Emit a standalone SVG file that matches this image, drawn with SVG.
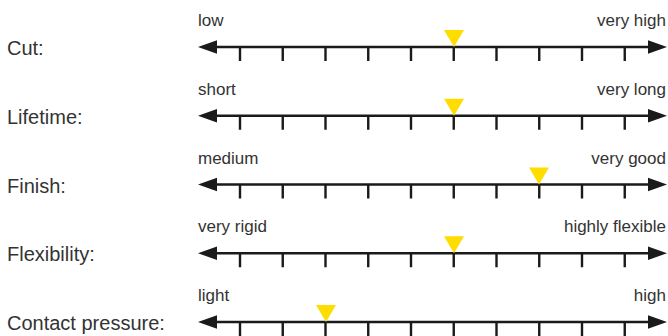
<svg xmlns="http://www.w3.org/2000/svg" xmlns:xlink="http://www.w3.org/1999/xlink" width="668" height="336" viewBox="0 0 668 336">
<style>
.lbl{font-family:"Liberation Sans","DejaVu Sans",sans-serif;font-size:20px;fill:#333333}
.end{font-family:"Liberation Sans","DejaVu Sans",sans-serif;font-size:17px;fill:#333333}
.r{text-anchor:end}
.axis{stroke:#1a1a1a;stroke-width:2.6;fill:none}
.tick{stroke:#1a1a1a;stroke-width:2.4}
.head{fill:#1a1a1a}
.mark{fill:#FFDD00}
</style>
<defs>
<g id="scale">
<line class="axis" x1="212" y1="0" x2="652" y2="0"/>
<polygon class="head" points="198,0 217,-6.7 217,6.7"/>
<polygon class="head" points="667,0 648,-6.7 648,6.7"/>
<path class="tick" d="M240,0V14M282.75,0V14M325.5,0V14M368.25,0V14M411,0V14M453.75,0V14M496.5,0V14M539.25,0V14M582,0V14M624.75,0V14"/>
</g>
<polygon id="tri" class="mark" points="-10,-17 10,-17 0,0"/>
</defs>
<g id="row-cut" transform="translate(0,47)">
<text class="lbl" x="7" y="8">Cut:</text>
<text class="end" x="198" y="-21">low</text>
<text class="end r" x="666" y="-21">very high</text>
<use xlink:href="#scale"/>
<use xlink:href="#tri" x="454"/>
</g>
<g id="row-lifetime" transform="translate(0,115.75)">
<text class="lbl" x="7" y="8">Lifetime:</text>
<text class="end" x="198" y="-21">short</text>
<text class="end r" x="666" y="-21">very long</text>
<use xlink:href="#scale"/>
<use xlink:href="#tri" x="454"/>
</g>
<g id="row-finish" transform="translate(0,184.5)">
<text class="lbl" x="7" y="8">Finish:</text>
<text class="end" x="198" y="-21">medium</text>
<text class="end r" x="666" y="-21">very good</text>
<use xlink:href="#scale"/>
<use xlink:href="#tri" x="539"/>
</g>
<g id="row-flexibility" transform="translate(0,253.25)">
<text class="lbl" x="7" y="8">Flexibility:</text>
<text class="end" x="198" y="-21">very rigid</text>
<text class="end r" x="666" y="-21">highly flexible</text>
<use xlink:href="#scale"/>
<use xlink:href="#tri" x="454"/>
</g>
<g id="row-contact" transform="translate(0,322)">
<text class="lbl" x="7" y="8">Contact pressure:</text>
<text class="end" x="198" y="-21">light</text>
<text class="end r" x="666" y="-21">high</text>
<use xlink:href="#scale"/>
<use xlink:href="#tri" x="326"/>
</g>
<g id="connectors"/>
</svg>
